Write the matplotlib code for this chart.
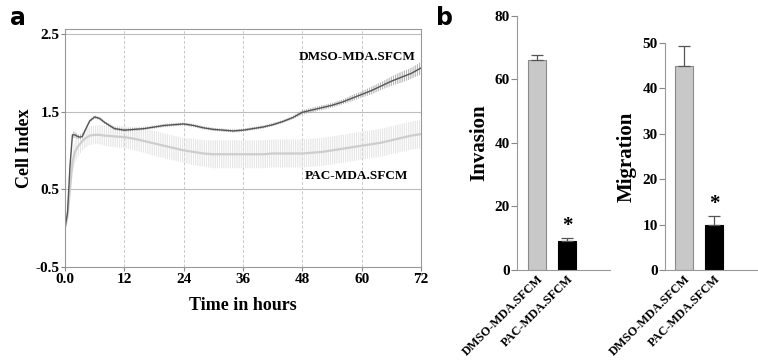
import numpy as np
import matplotlib.pyplot as plt

plt.rcParams['font.family'] = ['Liberation Serif', 'DejaVu Serif']
plt.rcParams['hatch.linewidth'] = 0.5

# panel a: real-time cell index
t_hours = [0, 0.5, 1, 1.5, 2, 2.5, 3, 3.5, 4, 5, 6, 7, 8, 10, 12, 14, 16, 18, 20, 22, 24,
           26, 28, 30, 32, 34, 36, 38, 40, 42, 44, 46, 48, 50, 52, 54, 56, 58, 60,
           62, 64, 66, 68, 70, 72]
dmso_ci = [0.0, 0.2, 0.8, 1.2, 1.2, 1.18, 1.17, 1.18, 1.25, 1.38, 1.43, 1.41, 1.36, 1.28, 1.26,
           1.27, 1.28, 1.30, 1.32, 1.33, 1.34, 1.32, 1.29, 1.27, 1.26, 1.25, 1.26, 1.28, 1.30,
           1.33, 1.37, 1.42, 1.49, 1.52, 1.55, 1.58, 1.62, 1.67, 1.72, 1.77, 1.83, 1.89, 1.94,
           1.99, 2.06]
dmso_err = [0.0, 0.02, 0.04, 0.04, 0.04, 0.03, 0.03, 0.03, 0.02, 0.02, 0.02, 0.02, 0.02, 0.02,
            0.02, 0.02, 0.02, 0.02, 0.02, 0.02, 0.02, 0.02, 0.02, 0.02, 0.02, 0.02, 0.02, 0.02,
            0.02, 0.02, 0.02, 0.02, 0.03, 0.03, 0.03, 0.03, 0.03, 0.04, 0.04, 0.05, 0.05, 0.06,
            0.07, 0.07, 0.08]
pac_ci = [0.0, 0.15, 0.5, 0.85, 0.98, 1.04, 1.08, 1.12, 1.15, 1.19, 1.2, 1.2, 1.19, 1.18, 1.17,
          1.15, 1.12, 1.09, 1.06, 1.03, 1.0, 0.98, 0.96, 0.95, 0.95, 0.95, 0.95, 0.95, 0.95,
          0.96, 0.96, 0.96, 0.96, 0.97, 0.98, 1.0, 1.02, 1.04, 1.06, 1.08, 1.1, 1.13, 1.16,
          1.19, 1.21]
pac_err = [0.0, 0.05, 0.1, 0.15, 0.15, 0.14, 0.13, 0.12, 0.12, 0.12, 0.12, 0.12, 0.13, 0.14, 0.14,
           0.15, 0.15, 0.16, 0.16, 0.16, 0.16, 0.17, 0.17, 0.18, 0.18, 0.18, 0.18, 0.18, 0.18,
           0.18, 0.18, 0.18, 0.18, 0.18, 0.18, 0.18, 0.18, 0.18, 0.18, 0.18, 0.18, 0.18, 0.18,
           0.18, 0.18]

# panel b: bar charts
groups = ['DMSO-MDA.SFCM', 'PAC-MDA.SFCM']
invasion = [66, 9]
invasion_err = [1.8, 1.0]
migration = [45, 10]
migration_err = [4.3, 1.8]

fig = plt.figure(figsize=(7.58, 3.61), dpi=100)

ax = fig.add_axes([0.0858, 0.2604, 0.4697, 0.659])
t = np.array(t_hours)
d = np.array(dmso_ci); de = np.array(dmso_err)
p = np.array(pac_ci); pe = np.array(pac_err)

ax.fill_between(t, p - pe, p + pe, facecolor='none', edgecolor='#dcdcdc', hatch='|' * 9, linewidth=0)
ax.plot(t, p, color='#cdcdcd', lw=1.6)
ax.fill_between(t, d - de, d + de, facecolor='none', edgecolor='#999999', hatch='|' * 9, linewidth=0)
ax.plot(t, d, color='#555555', lw=1.0)

for yv in [0.5, 1.5, 2.5]:
    ax.axhline(yv, color='#bdbdbd', lw=0.8, zorder=0)
for xv in [12, 24, 36, 48, 60]:
    ax.axvline(xv, color='#c8c8c8', lw=0.7, ls=(0, (3, 2)), zorder=0)

ax.set_xlim(0, 72)
ax.set_ylim(-0.5, 2.56)
ax.set_xticks([0, 12, 24, 36, 48, 60, 72])
ax.set_xticklabels(['0.0', '12', '24', '36', '48', '60', '72'])
ax.set_yticks([-0.5, 0.5, 1.5, 2.5])
ax.set_yticklabels(['-0.5', '0.5', '1.5', '2.5'])
ax.tick_params(labelsize=11, length=3, color='#888888', pad=1)
for lab in ax.get_xticklabels() + ax.get_yticklabels():
    lab.set_fontweight('bold')
for s in ax.spines.values():
    s.set_color('#999999')
ax.set_xlabel('Time in hours', fontsize=13, fontweight='bold', labelpad=8)
ax.set_ylabel('Cell Index', fontsize=13, fontweight='bold', labelpad=2)
ax.text(59, 2.2, 'DMSO-MDA.SFCM', fontsize=9.5, fontweight='bold', ha='center', va='center')
ax.text(59, 0.67, 'PAC-MDA.SFCM', fontsize=9.5, fontweight='bold', ha='center', va='center')
fig.text(0.013, 0.93, 'a', fontsize=17, fontweight='bold', family='DejaVu Sans')
fig.text(0.575, 0.93, 'b', fontsize=17, fontweight='bold', family='DejaVu Sans')


def bar_panel(rect, vals, errs, ylim, yticks, ylabel, xlim):
    bx = fig.add_axes(rect)
    x = np.arange(len(vals))
    bx.bar(x, vals, width=0.6, color=['#c8c8c8', 'black'], edgecolor=['#8a8a8a', 'black'], lw=0.8)
    bx.errorbar(x, vals, yerr=[np.zeros(len(errs)), errs], fmt='none', ecolor='#555555',
                elinewidth=0.9, capsize=4, capthick=0.9)
    bx.text(x[1], vals[1] + errs[1] + ylim * 0.01, '*', ha='center', va='bottom',
            fontsize=15, fontweight='bold')
    bx.set_xlim(*xlim)
    bx.set_ylim(0, ylim)
    bx.set_yticks(yticks)
    bx.set_xticks(x)
    bx.set_xticklabels(groups, rotation=45, ha='right', rotation_mode='anchor', fontsize=8.8,
                       fontweight='bold')
    bx.tick_params(axis='x', length=0, pad=2)
    bx.tick_params(axis='y', labelsize=11, length=4, color='#888888', pad=1)
    for lab in bx.get_yticklabels():
        lab.set_fontweight('bold')
    for s in ['top', 'right']:
        bx.spines[s].set_visible(False)
    for s in ['left', 'bottom']:
        bx.spines[s].set_color('#999999')
    bx.set_ylabel(ylabel, fontsize=15, fontweight='bold', labelpad=4)
    return bx


bar_panel([0.682, 0.252, 0.123, 0.704], invasion, invasion_err, 80, [0, 20, 40, 60, 80],
          'Invasion', (-0.67, 2.43))
bar_panel([0.877, 0.252, 0.123, 0.629], migration, migration_err, 50, [0, 10, 20, 30, 40, 50],
          'Migration', (-0.66, 2.49))

fig.savefig('out.png', dpi=100)
